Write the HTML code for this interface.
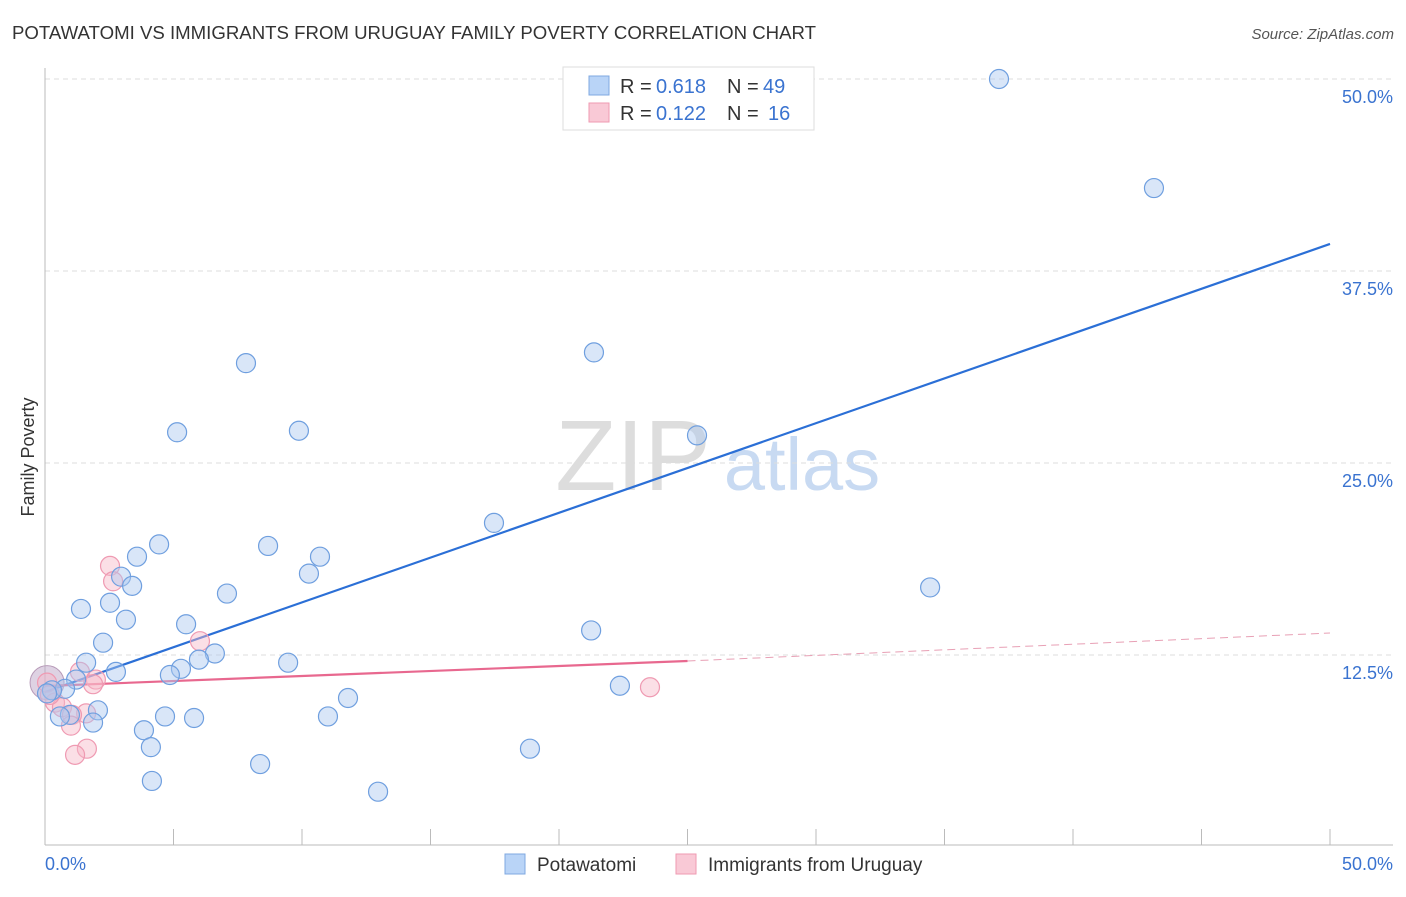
<!DOCTYPE html>
<html><head><meta charset="utf-8"><style>
body{margin:0;background:#fff;font-family:"Liberation Sans",sans-serif;}
svg text{font-family:"Liberation Sans",sans-serif;}
</style></head><body>
<svg width="1406" height="892" xmlns="http://www.w3.org/2000/svg">
<text x="12" y="39" font-size="18" textLength="804" lengthAdjust="spacingAndGlyphs" fill="#333">POTAWATOMI VS IMMIGRANTS FROM URUGUAY FAMILY POVERTY CORRELATION CHART</text>
<text x="1394" y="39" font-size="15" fill="#555" text-anchor="end" font-style="italic">Source: ZipAtlas.com</text>
<text transform="translate(34,457) rotate(-90)" font-size="18" fill="#333" text-anchor="middle">Family Poverty</text>
<g><text x="633" y="490" font-size="100" font-family="Liberation Serif" fill="#ddd" text-anchor="middle">ZIP</text><text x="802" y="490" font-size="74" fill="#c8daf2" text-anchor="middle">atlas</text></g>
<g id="grid"></g><g id="axes"></g><g id="lines"></g><g id="pts"></g>
<g>
<rect x="563" y="67" width="251" height="63" fill="#fff" stroke="#ddd"/>
<rect x="589" y="76" width="20" height="19" fill="#b9d4f7" stroke="#7fa8e0"/>
<rect x="589" y="103" width="20" height="19" fill="#f9c9d6" stroke="#ef9ab2"/>
<text x="620" y="93" font-size="20" fill="#333">R =</text><text x="656" y="93" font-size="20" fill="#3a73d0">0.618</text>
<text x="727" y="93" font-size="20" fill="#333">N =</text><text x="763" y="93" font-size="20" fill="#3a73d0">49</text>
<text x="620" y="120" font-size="20" fill="#333">R =</text><text x="656" y="120" font-size="20" fill="#3a73d0">0.122</text>
<text x="727" y="120" font-size="20" fill="#333">N =</text><text x="768" y="120" font-size="20" fill="#3a73d0">16</text>
</g>
<g>
<rect x="505" y="854" width="20" height="20" fill="#b9d4f7" stroke="#7fa8e0"/><text x="537" y="871" font-size="19" fill="#333">Potawatomi</text>
<rect x="676" y="854" width="20" height="20" fill="#f9c9d6" stroke="#ef9ab2"/><text x="708" y="871" font-size="19" fill="#333">Immigrants from Uruguay</text>
</g>
</svg>
<script>
const blueX=[37.12,43.15,7.82,21.36,5.14,9.88,25.37,17.47,4.44,8.68,3.58,10.70,10.27,2.96,3.39,34.44,7.08,1.40,2.53,3.15,5.49,2.26,21.25,6.61,5.99,9.46,1.60,5.29,4.86,2.76,22.37,1.21,0.78,0.27,0.08,11.79,2.06,0.97,0.58,4.67,5.80,11.01,1.87,3.85,4.12,18.87,8.37,4.16,12.96];
const blueY=[50.0,42.9,31.5,32.2,27.0,27.1,26.8,21.1,19.7,19.6,18.9,18.9,17.8,17.6,17.0,16.9,16.5,15.5,15.9,14.8,14.5,13.3,14.1,12.6,12.2,12.0,12.0,11.6,11.2,11.4,10.5,10.9,10.3,10.2,10.0,9.7,8.9,8.6,8.5,8.5,8.4,8.5,8.1,7.6,6.5,6.4,5.4,4.3,3.6];
const pinkX=[2.53,2.65,6.03,1.36,1.98,1.87,0.08,0.39,0.66,1.60,1.05,1.01,1.63,1.17,23.54,0.19];
const pinkY=[18.3,17.3,13.4,11.4,10.9,10.6,10.7,9.4,9.1,8.7,8.6,7.9,6.4,6.0,10.4,9.9];
const blueTrend=[10.09,39.26];
const pinkTrend=[10.48,12.11,13.93];
const yTicks=[12.5,25,37.5,50];
const NS='http://www.w3.org/2000/svg';
const X=v=>45+v*25.7, Y=v=>847-v*15.36;
function mk(t,a,p){const e=document.createElementNS(NS,t);for(const k in a)e.setAttribute(k,a[k]);document.getElementById(p).appendChild(e);return e;}
yTicks.forEach(t=>{const g=mk('line',{x1:45,x2:1393,y1:Y(t),y2:Y(t),stroke:'#ddd','stroke-dasharray':'5,4'},'grid');


const l=mk('text',{x:1393,y:Y(t)+24,'font-size':18,fill:'#3a73d0','text-anchor':'end'},'grid');l.textContent=t.toFixed(1)+'%';

});
mk('line',{x1:45,x2:45,y1:68,y2:845,stroke:'#bbb'},'axes');
mk('line',{x1:45,x2:1393,y1:845,y2:845,stroke:'#bbb'},'axes');
for(let i=0;i<=10;i++){const t=mk('line',{x1:X(i*5),x2:X(i*5),y1:829,y2:845,stroke:'#bbb'},'axes');

}
[[0,'0.0%','start',45],[50,'50.0%','end',1393]].forEach(a=>{const l=mk('text',{x:a[3],y:870,'font-size':18,fill:'#3a73d0','text-anchor':a[2]},'axes');l.textContent=a[1];

});
const bl=mk('line',{x1:X(0),y1:Y(blueTrend[0]),x2:X(50),y2:Y(blueTrend[1]),stroke:'#2b6fd6','stroke-width':2.2},'lines');


const pl=mk('line',{x1:X(0),y1:Y(pinkTrend[0]),x2:X(25),y2:Y(pinkTrend[1]),stroke:'#e8688f','stroke-width':2.2},'lines');


const pd=mk('line',{x1:X(25),y1:Y(pinkTrend[1]),x2:X(50),y2:Y(pinkTrend[2]),stroke:'#e8a0b5','stroke-width':1,'stroke-dasharray':'8,5'},'lines');


const big=mk('circle',{cx:X(0.08),cy:Y(10.7),r:17,fill:'rgba(190,165,200,0.5)',stroke:'#b79ab8'},'pts');


pinkX.forEach((x,i)=>{const c=mk('circle',{cx:X(x),cy:Y(pinkY[i]),r:9.5,fill:'rgba(247,183,200,0.45)',stroke:'#ef9ab2','stroke-width':1.2},'pts');

});
blueX.forEach((x,i)=>{const c=mk('circle',{cx:X(x),cy:Y(blueY[i]),r:9.5,fill:'rgba(170,200,240,0.45)',stroke:'#6f9fdf','stroke-width':1.2},'pts');

});
</script>
</body></html>
